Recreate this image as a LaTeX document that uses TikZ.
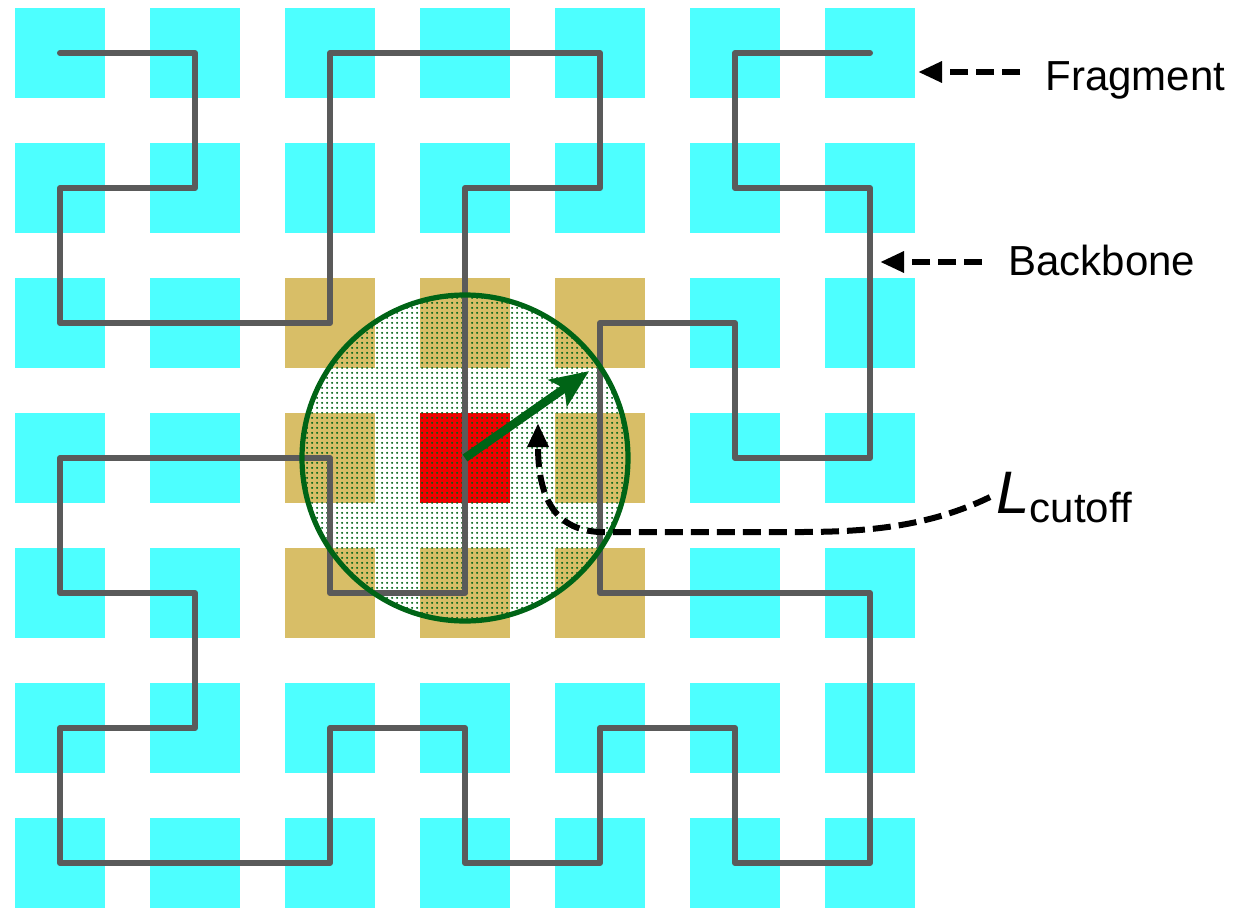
\documentclass[tikz,border=0pt]{standalone}
\usepackage{fontspec}
\setmainfont{Liberation Sans}
\usetikzlibrary{positioning, arrows.meta, patterns.meta}

\definecolor{cellcyan}{RGB}{77,255,255}
\definecolor{celltan}{RGB}{216,190,103}
\definecolor{cellred}{RGB}{240,0,0}
\definecolor{bbgray}{RGB}{90,90,90}
\definecolor{cutgreen}{RGB}{0,100,22}

\tikzdeclarepattern{
  name=greendots,
  type=uncolored,
  bottom left={(0pt,0pt)},
  top right={(2.5pt,2.5pt)},
  tile size={(2.5pt,2.5pt)},
  code={\fill (1.25pt,1.25pt) circle (0.65pt);}
}

\begin{document}
\begin{tikzpicture}[x=0.5pt, y=-0.5pt,
  cell/.style={rectangle, minimum size=45pt, inner sep=0pt},
  backbone/.style={draw=bbgray, line width=3pt, line join=round, line cap=round},
  pointer/.style={line width=3pt, dash pattern=on 9pt off 4pt, -{Triangle[length=12pt, width=10pt]}},
  sidetext/.style={font=\fontsize{21}{25}\selectfont, inner sep=0pt, anchor=base west}]
\useasboundingbox (0,0) rectangle (1236,910);
\fill[white] (0,0) rectangle (1236,910);

% lattice of cells
\foreach \i in {0,...,6}
  \foreach \j in {0,...,6} {
    \pgfmathtruncatemacro\dist{max(abs(\i-3),abs(\j-3))}
    \ifnum\dist=0 \def\cellfill{cellred}\else\ifnum\dist=1 \def\cellfill{celltan}\else\def\cellfill{cellcyan}\fi\fi
    \node[cell, fill=\cellfill] (c\i\j) at (60+135*\i, 53+135*\j) {};
  }

% cutoff region
\node[circle, minimum size=163pt, inner sep=0pt, pattern=greendots, pattern color=cutgreen] (cutoff) at (c33) {};

% backbone
\draw[backbone] (c00.center) \foreach \n in {10,11,01,02,22,20,40,41,31,34,24,23,03,04,14,15,05,06,26,25,35,36,46,45,55,56,66,64,44,42,52,53,63,61,51,50,60} {-- (c\n.center)};

\draw[cutgreen, line width=2.6pt] (cutoff.center) circle[radius=81.5pt];
\draw[cutgreen, line width=4.2pt, shorten >=6pt, -{Stealth[length=19pt, width=16pt, inset=4pt]}] (c33.center) -- (cutoff.35);

% labels
\node[sidetext] (frag) at (1045,90) {Fragment};
\node[sidetext] (bone) at (1008,275) {Backbone};
\node[sidetext] (lcut) at (996,513) {{\fontsize{30}{36}\selectfont\itshape L}\raisebox{-4.5pt}{cutoff}};

\coordinate (fragtail) at (1020,72);
\coordinate (fragtip) at (918,72);
\coordinate (bonetail) at (982,262);
\coordinate (bonetip) at (880,262);
\coordinate (ltip) at (538,423);

\draw[pointer] (fragtail) -- (fragtip);
\draw[pointer] (bonetail) -- (bonetip);
\draw[pointer] ([xshift=-3pt]lcut.west) .. controls (930,526) and (870,532) .. (800,532) -- (600,532) .. controls (553,530) and (538,495) .. (ltip);
\end{tikzpicture}
\end{document}
